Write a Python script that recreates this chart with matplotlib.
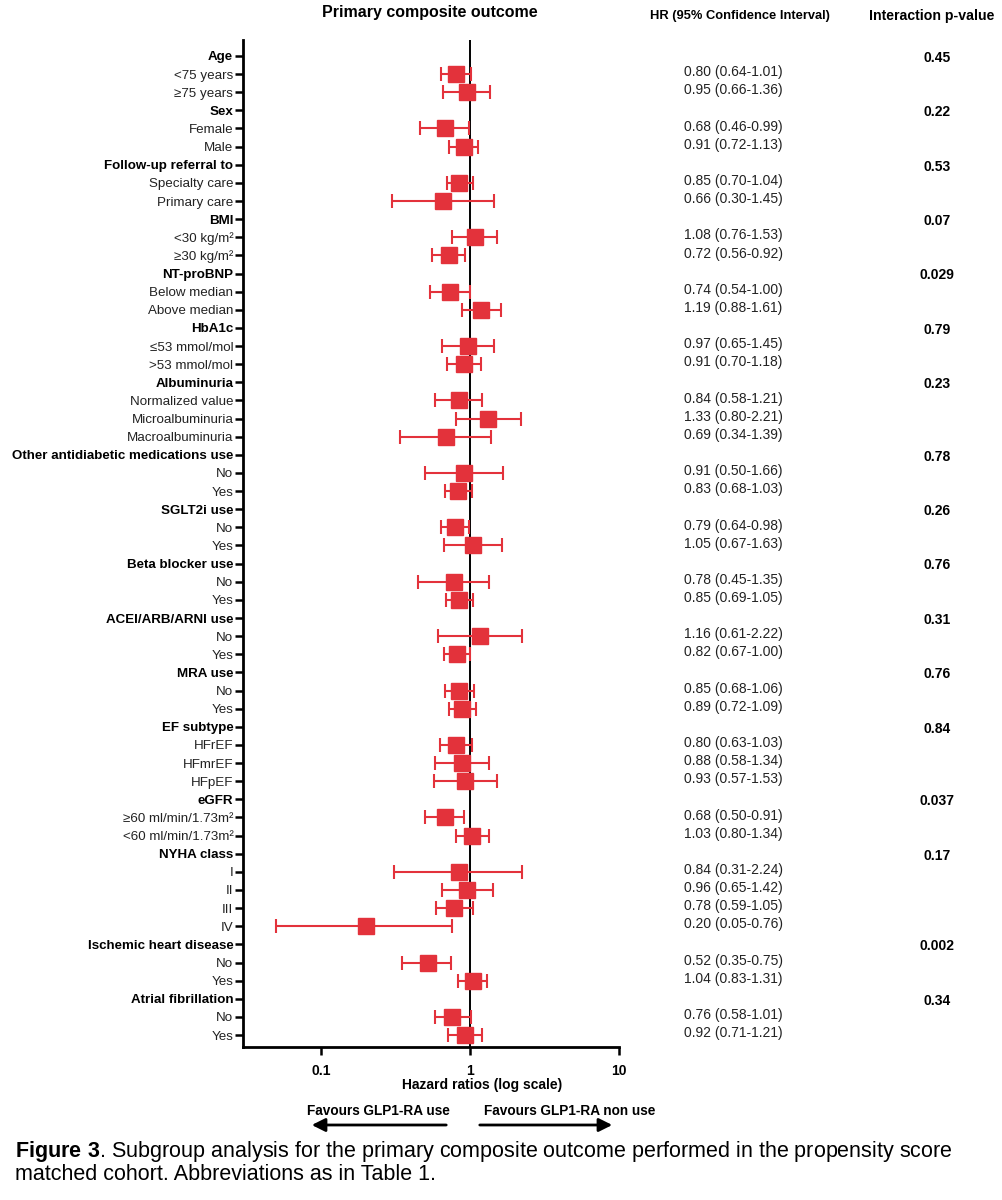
import matplotlib
matplotlib.use("Agg")
import matplotlib.pyplot as plt
import matplotlib.transforms as mtrans
import numpy as np

plt.rcParams['font.family'] = ['Liberation Sans', 'DejaVu Sans']
plt.rcParams['mathtext.fontset'] = 'custom'
plt.rcParams['mathtext.rm'] = 'Liberation Sans'
plt.rcParams['mathtext.bf'] = 'Liberation Sans:bold'

# ---------------- data ----------------
groups = ["Age", "Sex", "Follow-up referral to", "BMI", "NT-proBNP", "HbA1c",
          "Albuminuria", "Other antidiabetic medications use", "SGLT2i use",
          "Beta blocker use", "ACEI/ARB/ARNI use", "MRA use", "EF subtype",
          "eGFR", "NYHA class", "Ischemic heart disease", "Atrial fibrillation"]
group_p = ["0.45", "0.22", "0.53", "0.07", "0.029", "0.79", "0.23", "0.78", "0.26",
           "0.76", "0.31", "0.76", "0.84", "0.037", "0.17", "0.002", "0.34"]
sub_labels = [
    ["<75 years", "≥75 years"],
    ["Female", "Male"],
    ["Specialty care", "Primary care"],
    ["<30 kg/m²", "≥30 kg/m²"],
    ["Below median", "Above median"],
    ["≤53 mmol/mol", ">53 mmol/mol"],
    ["Normalized value", "Microalbuminuria", "Macroalbuminuria"],
    ["No", "Yes"],
    ["No", "Yes"],
    ["No", "Yes"],
    ["No", "Yes"],
    ["No", "Yes"],
    ["HFrEF", "HFmrEF", "HFpEF"],
    ["≥60 ml/min/1.73m²", "<60 ml/min/1.73m²"],
    ["I", "II", "III", "IV"],
    ["No", "Yes"],
    ["No", "Yes"],
]
hr = [[0.80, 0.95], [0.68, 0.91], [0.85, 0.66], [1.08, 0.72], [0.74, 1.19],
      [0.97, 0.91], [0.84, 1.33, 0.69], [0.91, 0.83], [0.79, 1.05], [0.78, 0.85],
      [1.16, 0.82], [0.85, 0.89], [0.80, 0.88, 0.93], [0.68, 1.03],
      [0.84, 0.96, 0.78, 0.20], [0.52, 1.04], [0.76, 0.92]]
ci_lo = [[0.64, 0.66], [0.46, 0.72], [0.70, 0.30], [0.76, 0.56], [0.54, 0.88],
         [0.65, 0.70], [0.58, 0.80, 0.34], [0.50, 0.68], [0.64, 0.67], [0.45, 0.69],
         [0.61, 0.67], [0.68, 0.72], [0.63, 0.58, 0.57], [0.50, 0.80],
         [0.31, 0.65, 0.59, 0.05], [0.35, 0.83], [0.58, 0.71]]
ci_hi = [[1.01, 1.36], [0.99, 1.13], [1.04, 1.45], [1.53, 0.92], [1.00, 1.61],
         [1.45, 1.18], [1.21, 2.21, 1.39], [1.66, 1.03], [0.98, 1.63], [1.35, 1.05],
         [2.22, 1.00], [1.06, 1.09], [1.03, 1.34, 1.53], [0.91, 1.34],
         [2.24, 1.42, 1.05, 0.76], [0.75, 1.31], [1.01, 1.21]]

# ---------------- layout rows ----------------
labels, bold, rows_hr, rows_lo, rows_hi, rows_p = [], [], [], [], [], []
for g, p, subs, h, lo, hi in zip(groups, group_p, sub_labels, hr, ci_lo, ci_hi):
    labels.append(g); bold.append(True)
    rows_hr.append(np.nan); rows_lo.append(np.nan); rows_hi.append(np.nan); rows_p.append(p)
    for s, a, b, c in zip(subs, h, lo, hi):
        labels.append(s); bold.append(False)
        rows_hr.append(a); rows_lo.append(b); rows_hi.append(c); rows_p.append(None)

n = len(labels)
ypos = np.arange(n)
rows_hr = np.array(rows_hr); rows_lo = np.array(rows_lo); rows_hi = np.array(rows_hi)

red = "#E3323B"

fig = plt.figure(figsize=(10.02, 12.0), dpi=100)
ax = fig.add_axes([243/1002, 1 - 1047/1200, (619-243)/1002, (1047-40)/1200])

ax.set_xscale('log')
ax.set_xlim(0.0300, 10)
ax.set_ylim(n - 1 + 0.66, -0.88)

ax.axvline(1, color='black', lw=1.4, zorder=1)

mask = ~np.isnan(rows_hr)
ax.errorbar(rows_hr[mask], ypos[mask],
            xerr=[rows_hr[mask] - rows_lo[mask], rows_hi[mask] - rows_hr[mask]],
            fmt='s', color=red, ecolor=red, markersize=12, elinewidth=1.5,
            capsize=5, capthick=1.5, zorder=3)

ax.set_yticks(ypos)
ax.set_yticklabels(labels, fontsize=9.6)
for t, b in zip(ax.get_yticklabels(), bold):
    if b:
        t.set_fontweight('bold')
        t.set_color('black')
    else:
        t.set_color('#222222')

ax.set_xticks([0.1, 1, 10])
ax.set_xticklabels(["0.1", "1", "10"], fontsize=10, fontweight='bold')
ax.xaxis.set_minor_locator(matplotlib.ticker.NullLocator())
ax.tick_params(axis='y', length=6, width=1.8, pad=1)
ax.tick_params(axis='x', length=6, width=1.8, pad=6)
for s in ['top', 'right']:
    ax.spines[s].set_visible(False)
for s in ['left', 'bottom']:
    ax.spines[s].set_linewidth(2.0)

fig.text(482/1002, 1 - 1085/1200, "Hazard ratios (log scale)", ha='center', va='center',
         fontsize=10, fontweight='bold')

# right-side columns
trans = mtrans.blended_transform_factory(fig.transFigure, ax.transData)
for y, h, lo, hi, p in zip(ypos, rows_hr, rows_lo, rows_hi, rows_p):
    if p is not None:
        fig.text(937/1002, y + 0.1, p, transform=trans, ha='center', va='center',
                 fontsize=10, fontweight='bold')
    else:
        fig.text(733/1002, y - 0.1, f"{h:.2f} ({lo:.2f}-{hi:.2f})", transform=trans,
                 ha='center', va='center', fontsize=10, color='#222222')

# headers
fig.text(430/1002, 1 - 12/1200, "Primary composite outcome", ha='center', va='center',
         fontsize=11.5, fontweight='bold')
fig.text(740/1002, 1 - 16/1200, "HR (95% Confidence Interval)", ha='center', va='center',
         fontsize=9.3, fontweight='bold')
fig.text(932/1002, 1 - 16/1200, "Interaction p-value", ha='center', va='center',
         fontsize=10.2, fontweight='bold')

# favours text and arrows
fig.text(378/1002, 1 - 1111/1200, "Favours GLP1-RA use", ha='center', va='center',
         fontsize=9.8, fontweight='bold')
fig.text(570/1002, 1 - 1111/1200, "Favours GLP1-RA non use", ha='center', va='center',
         fontsize=9.8, fontweight='bold')
fig.add_artist(matplotlib.patches.FancyArrowPatch(
    (449/1002, 1 - 1125/1200), (309/1002, 1 - 1125/1200), transform=fig.transFigure,
    arrowstyle='-|>,head_length=8,head_width=4', lw=2, color='black', mutation_scale=1))
fig.add_artist(matplotlib.patches.FancyArrowPatch(
    (477/1002, 1 - 1125/1200), (615/1002, 1 - 1125/1200), transform=fig.transFigure,
    arrowstyle='-|>,head_length=8,head_width=4', lw=2, color='black', mutation_scale=1))

# caption
fig.text(15/1002, 1 - 1152/1200, r"$\mathbf{Figure\ 3}$. Subgroup analysis for the primary composite outcome performed in the propensity score",
         ha='left', va='center', fontsize=15.5)
fig.text(15/1002, 1 - 1175/1200, "matched cohort. Abbreviations as in Table 1.",
         ha='left', va='center', fontsize=15.5)

fig.savefig("out.png", dpi=100)
